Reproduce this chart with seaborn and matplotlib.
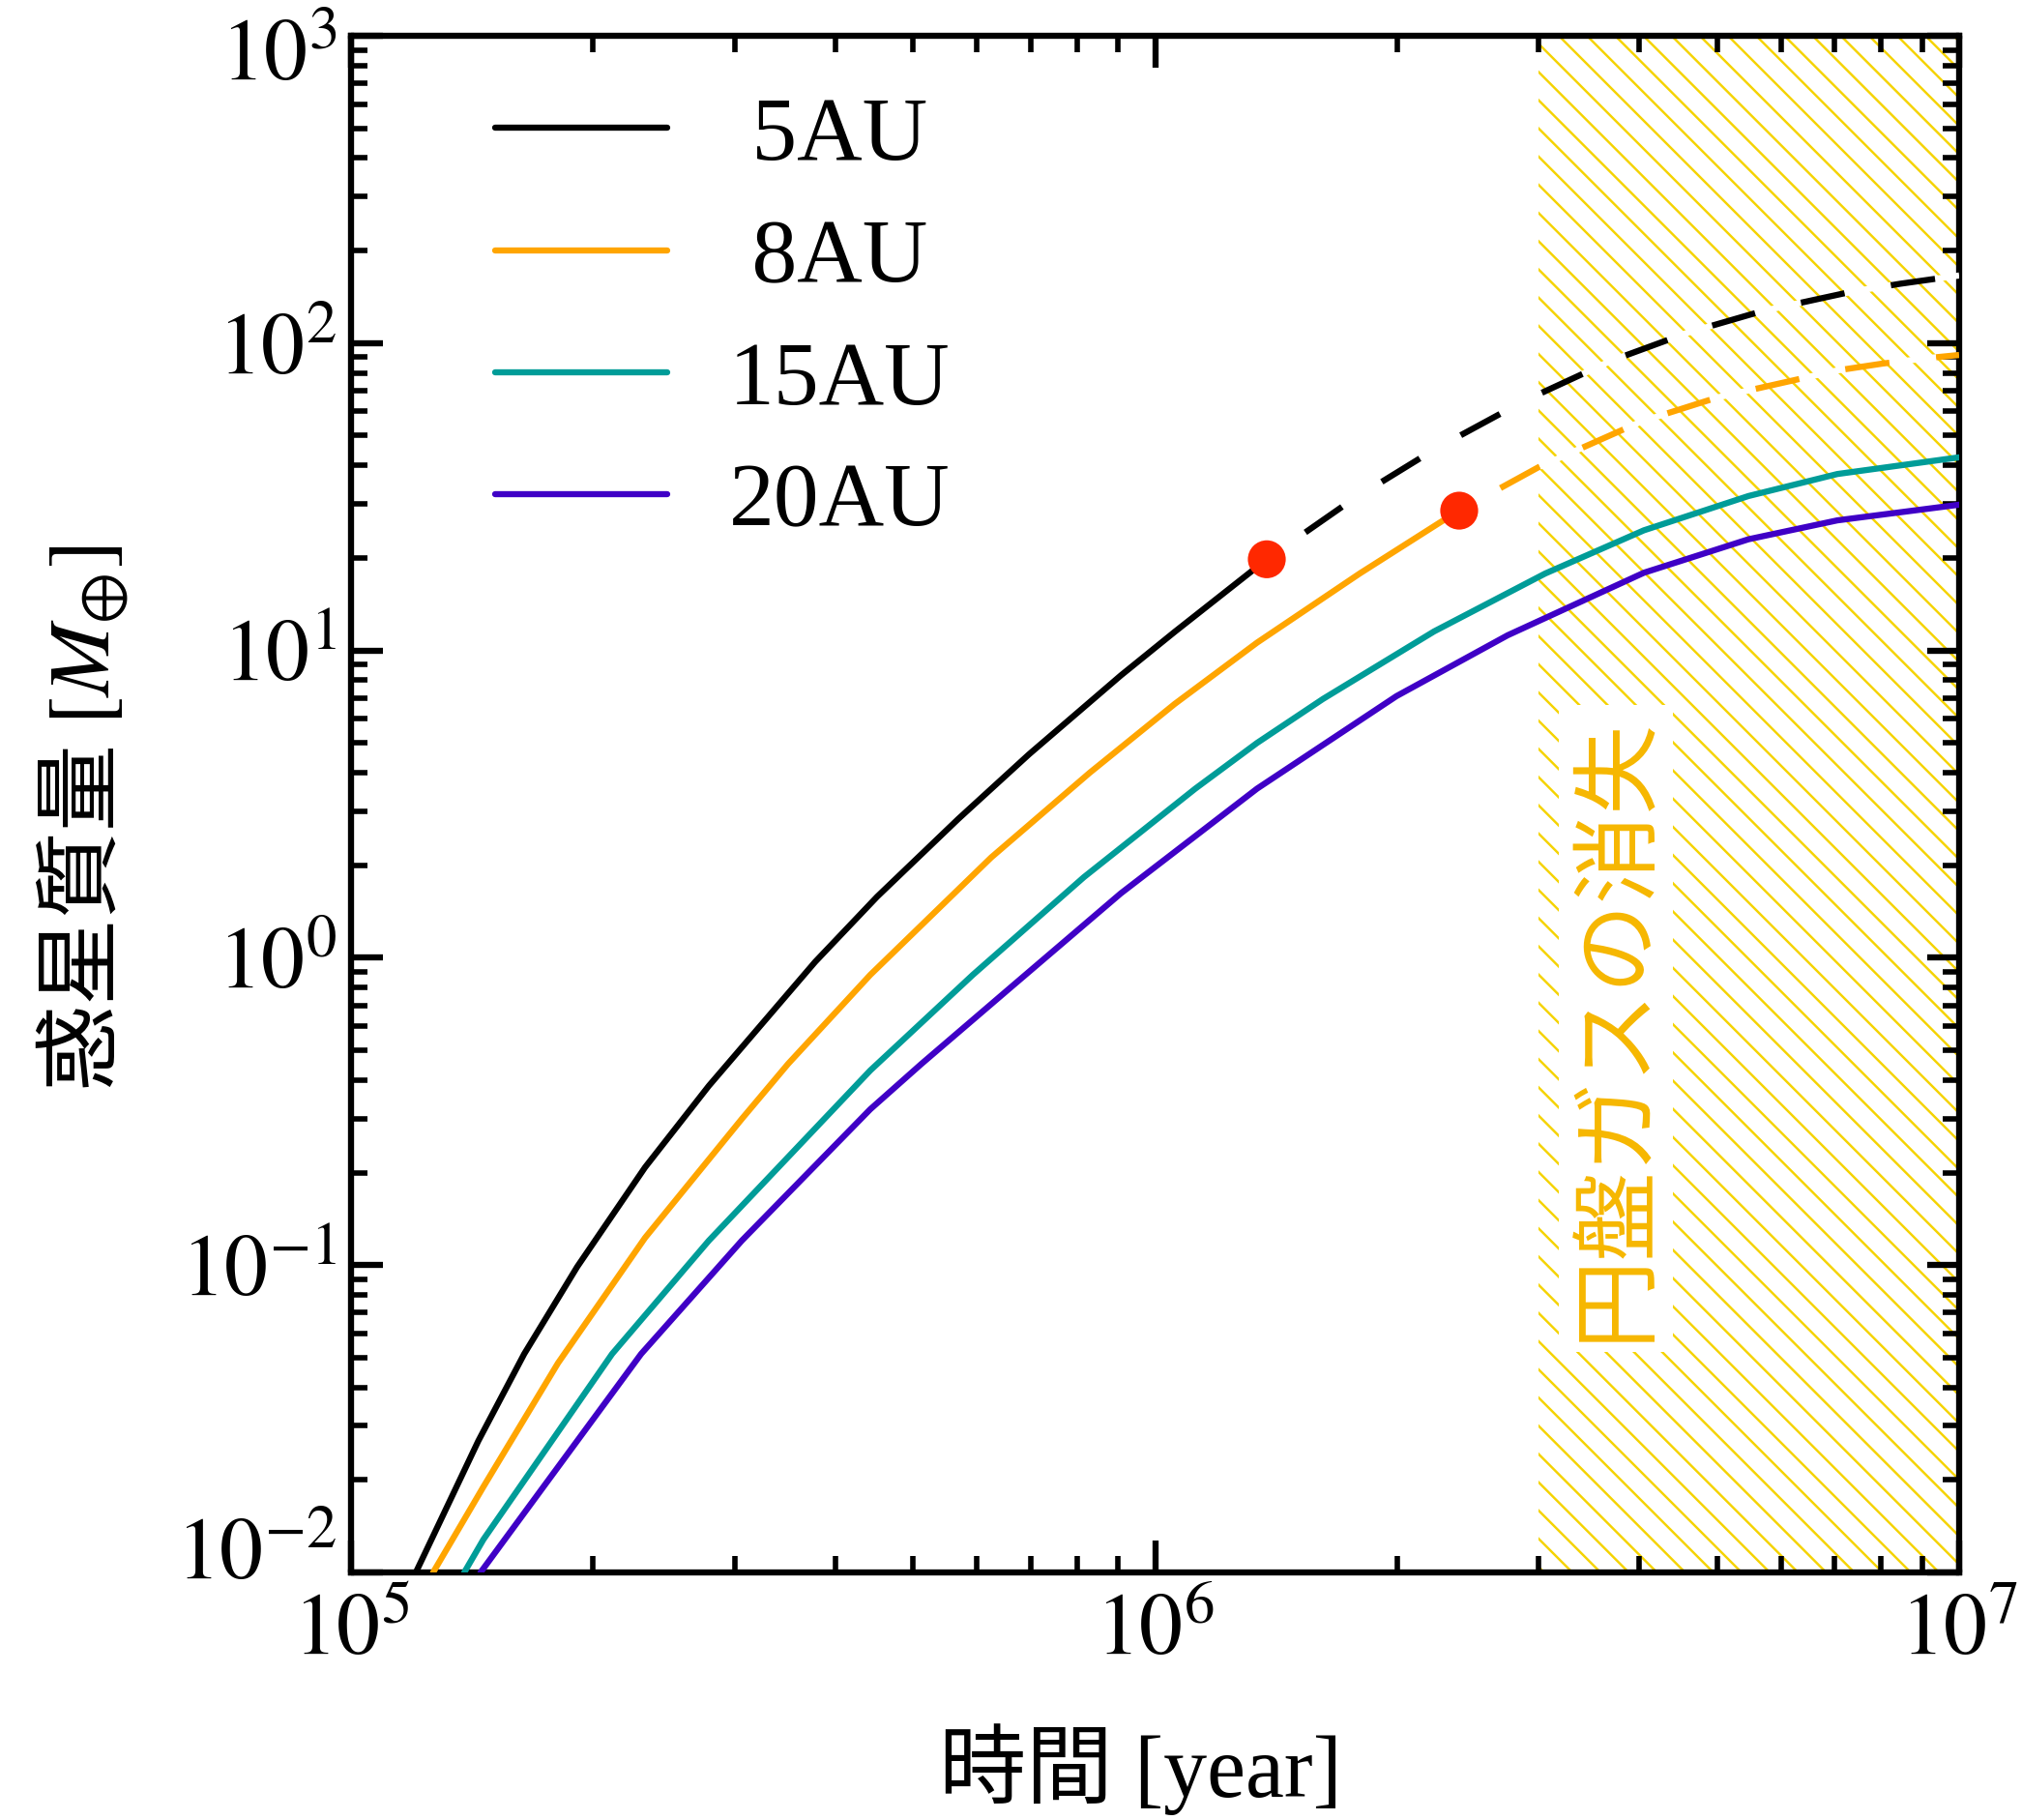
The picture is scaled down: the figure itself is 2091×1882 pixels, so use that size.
import numpy as np
import pandas as pd
import matplotlib
matplotlib.use("Agg")
import matplotlib.pyplot as plt
import matplotlib.transforms as mtransforms
from matplotlib.ticker import LogLocator, NullFormatter
import seaborn as sns

# ---------------- data ----------------
series_labels = [" 5AU", " 8AU", "15AU", "20AU"]
series_colors = ["#000000", "#FFA500", "#009C98", "#3F00C6"]

t_5au = [1.204e5, 1.440e5, 1.642e5, 1.911e5, 2.321e5, 2.786e5, 3.778e5, 4.511e5,
         5.692e5, 6.968e5, 9.065e5, 1.058e6, 1.377e6, 1.742e6, 2.223e6, 2.869e6,
         3.690e6, 4.59e6, 5.684e6, 7.352e6, 8.447e6, 1.0e7]
m_5au = [0.0100, 0.0268, 0.0514, 0.0987, 0.208, 0.383, 0.970, 1.58,
         2.83, 4.59, 8.29, 11.5, 19.8, 30.4, 45.0, 64.6,
         87.6, 108.0, 127.0, 147.0, 156.0, 166.0]

t_8au = [1.265e5, 1.461e5, 1.809e5, 2.321e5, 3.062e5, 3.497e5, 4.424e5, 6.254e5,
         8.293e5, 1.058e6, 1.339e6, 1.797e6, 2.267e6, 2.389e6, 3.0e6, 4.02e6,
         5.0e6, 7.055e6, 8.035e6, 9.23e6, 1.0e7]
m_8au = [0.0100, 0.0190, 0.048, 0.1227, 0.299, 0.452, 0.880, 2.12,
         4.00, 6.70, 10.6, 17.8, 26.2, 28.5, 39.5, 55.5,
         66.5, 81.5, 85.8, 89.6, 91.5]

t_15au = [1.383e5, 1.461e5, 2.112e5, 2.786e5, 4.424e5, 5.934e5, 8.157e5, 1.122e6,
          1.339e6, 1.617e6, 2.223e6, 3.057e6, 4.055e6, 5.47e6, 7.055e6, 1.0e7]
m_15au = [0.0100, 0.0128, 0.0514, 0.1201, 0.430, 0.880, 1.83, 3.55,
          5.00, 6.95, 11.53, 17.8, 24.6, 31.8, 37.5, 42.5]

t_20au = [1.449e5, 2.295e5, 3.062e5, 4.424e5, 5.124e5, 6.592e5, 9.065e5, 1.339e6,
          1.996e6, 2.744e6, 4.055e6, 5.47e6, 7.055e6, 1.0e7]
m_20au = [0.0100, 0.0514, 0.1201, 0.3215, 0.452, 0.795, 1.62, 3.55,
          7.10, 11.2, 17.9, 23.0, 26.5, 29.8]

# time / mass where the core reaches critical mass (red dots); None = never
dot_t = [1.377e6, 2.389e6, None, None]
dot_m = [19.8, 28.5, None, None]

gas_start = 3.0e6
gas_end = 1.0e7
gas_text = "円盤ガスの消失"
gas_text_t = 3.74e6
gas_text_m = 0.59

x_ticks = [1e5, 1e6, 1e7]
x_ticklabels = [r"$10^{5}$", r"$10^{6}$", r"$10^{7}$"]
y_ticks = [1e-2, 1e-1, 1e0, 1e1, 1e2, 1e3]
y_ticklabels = [r"$10^{-2}$", r"$10^{-1}$", r"$10^{0}$", r"$10^{1}$", r"$10^{2}$", r"$10^{3}$"]
x_label = "時間 [year]"
y_label = "惑星質量 $[M_{\\oplus}]$"

all_t = [t_5au, t_8au, t_15au, t_20au]
all_m = [m_5au, m_8au, m_15au, m_20au]

# ---------------- style ----------------
sns.set_style("ticks")
plt.rcParams["font.family"] = ["Liberation Serif", "Noto Sans CJK JP"]
plt.rcParams["mathtext.fontset"] = "stix"
plt.rcParams["hatch.linewidth"] = 1.0
plt.rcParams["axes.unicode_minus"] = True
for k in ["text.color", "axes.labelcolor", "xtick.color", "ytick.color", "axes.edgecolor"]:
    plt.rcParams[k] = "black"

DPI = 175
FS = 37
fig = plt.figure(figsize=(2091 / DPI, 1882 / DPI), dpi=DPI)
ax = fig.add_axes([363 / 2091, 1 - 1626 / 1882, 1663 / 2091, 1589 / 1882])
ax.set_xscale("log")
ax.set_yscale("log")

LW = 2.6
dash_style = (7.3, (7.3, 7.7))

for lab, col, ts, ms, td in zip(series_labels, series_colors, all_t, all_m, dot_t):
    df = pd.DataFrame({"t": ts, "m": ms})
    if td is None:
        solid, dashed = df, None
    else:
        solid = df[df["t"] <= td]
        dashed = df[df["t"] >= td]
    sns.lineplot(data=solid, x="t", y="m", ax=ax, color=col, lw=LW,
                 estimator=None, sort=False, label=lab, zorder=3)
    if dashed is not None:
        sns.lineplot(data=dashed, x="t", y="m", ax=ax, color=col, lw=LW,
                     estimator=None, sort=False, linestyle=dash_style,
                     gapcolor="white", zorder=3)

dots = pd.DataFrame({"t": [d for d in dot_t if d is not None],
                     "m": [d for d in dot_m if d is not None]})
sns.scatterplot(data=dots, x="t", y="m", ax=ax, color="#FF2800", s=260,
                edgecolor="none", linewidth=0, zorder=5, legend=False)

# gas dispersal region
ax.axvspan(gas_start, gas_end, facecolor="none", edgecolor="#F5D300",
           hatch="\\\\", linewidth=0, zorder=0.5)
ax.text(gas_text_t, gas_text_m, gas_text, rotation=90, ha="center", va="center",
        fontsize=38, color="#F6B700", family=["Noto Sans CJK JP"], zorder=4,
        bbox=dict(boxstyle="square,pad=0.12", fc="white", ec="none"))

# axes
ax.set_xlim(1e5, 1e7)
ax.set_ylim(1e-2, 1e3)
ax.set_xticks(x_ticks)
ax.set_xticklabels(x_ticklabels)
ax.set_yticks(y_ticks)
ax.set_yticklabels(y_ticklabels)
ax.xaxis.set_minor_locator(LogLocator(base=10, subs=np.arange(2, 10), numticks=100))
ax.yaxis.set_minor_locator(LogLocator(base=10, subs=np.arange(2, 10), numticks=100))
ax.xaxis.set_minor_formatter(NullFormatter())
ax.yaxis.set_minor_formatter(NullFormatter())

ax.tick_params(which="major", direction="in", length=13.6, width=2.6,
               top=True, right=True, labelsize=FS, colors="black")
ax.tick_params(which="minor", direction="in", length=7, width=2.3,
               top=True, right=True, colors="black")
ax.tick_params(axis="x", which="major", pad=9)
ax.tick_params(axis="y", which="major", pad=6)
for s in ax.spines.values():
    s.set_linewidth(2.6)
    s.set_color("black")

ax.set_xlabel(x_label, fontsize=FS, color="black")
ax.set_ylabel(y_label, fontsize=FS, color="black", family=["Noto Sans CJK JP"])
ax.xaxis.set_label_coords(0.4907, -0.098)
ax.yaxis.set_label_coords(-0.137, 0.491)

# shift end labels of the y axis inward
yt = ax.yaxis.get_major_ticks()
up = mtransforms.ScaledTranslation(0, 25 / DPI, fig.dpi_scale_trans)
down = mtransforms.ScaledTranslation(0, -14 / DPI, fig.dpi_scale_trans)
yt[0].label1.set_transform(yt[0].label1.get_transform() + up)
yt[-1].label1.set_transform(yt[-1].label1.get_transform() + down)

h, l = ax.get_legend_handles_labels()
leg = ax.legend(h, l, loc="upper left", bbox_to_anchor=(0.0895, 0.9606),
                frameon=False, fontsize=38.5, handlelength=1.9,
                handletextpad=0.69, labelspacing=0.435, borderpad=0,
                borderaxespad=0)
for line in leg.get_lines():
    line.set_linewidth(LW)
for txt in leg.get_texts():
    txt.set_color("black")

fig.savefig("out.png", dpi=DPI)
